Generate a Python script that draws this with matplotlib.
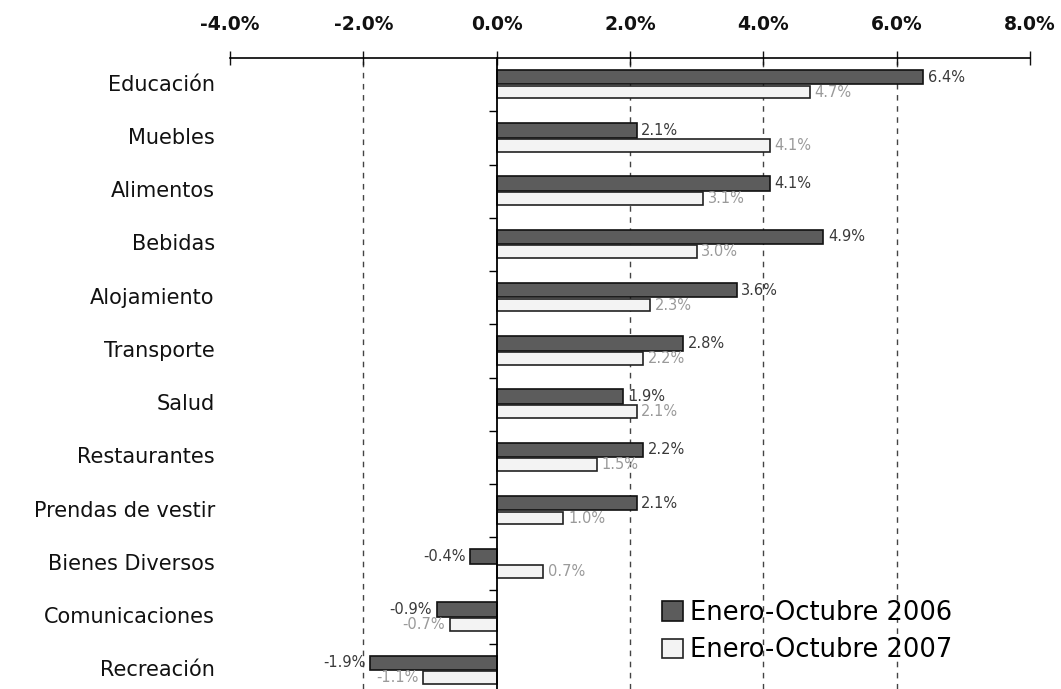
import numpy as np
import matplotlib.pyplot as plt

categorias = ['Educación', 'Muebles', 'Alimentos', 'Bebidas', 'Alojamiento',
              'Transporte', 'Salud', 'Restaurantes', 'Prendas de vestir',
              'Bienes Diversos', 'Comunicaciones', 'Recreación']
var_2006 = [6.4, 2.1, 4.1, 4.9, 3.6, 2.8, 1.9, 2.2, 2.1, -0.4, -0.9, -1.9]
var_2007 = [4.7, 4.1, 3.1, 3.0, 2.3, 2.2, 2.1, 1.5, 1.0, 0.7, -0.7, -1.1]
ticks_x = [-4, -2, 0, 2, 4, 6, 8]
rejilla = [-2, 2, 4, 6]

plt.rcParams['font.family'] = ['DejaVu Sans']

fig = plt.figure(figsize=(10.61, 6.89), dpi=100)
ax = fig.add_axes([0.2168, 0.0, 0.754, 0.9158])

y = np.arange(len(categorias))
off = 0.14

b1 = ax.barh(y - off, var_2006, height=0.27, color='#5c5c5c', edgecolor='#111111',
             linewidth=1.2, label='Enero-Octubre 2006', zorder=3)
b2 = ax.barh(y + off, var_2007, height=0.24, color='#f3f3f3', edgecolor='#222222',
             linewidth=1.2, label='Enero-Octubre 2007', zorder=3)

# etiquetas de valor junto al extremo de cada barra
for yi, v in zip(y - off, var_2006):
    ha = 'left' if v >= 0 else 'right'
    dx = 0.07 if v >= 0 else -0.07
    ax.text(v + dx, yi, f'{v:.1f}%', ha=ha, va='center', fontsize=10.5, color='#3a3a3a', zorder=4)
for yi, v in zip(y + off, var_2007):
    ha = 'left' if v >= 0 else 'right'
    dx = 0.07 if v >= 0 else -0.07
    ax.text(v + dx, yi, f'{v:.1f}%', ha=ha, va='center', fontsize=10.5, color='#9a9a9a', zorder=4)

# nombres de categoria a la izquierda
for yi, nombre in zip(y, categorias):
    ax.text(-0.019, yi, nombre, transform=ax.get_yaxis_transform(),
            ha='right', va='center', fontsize=15, color='#111111')

# lineas verticales discontinuas
for gx in rejilla:
    ax.axvline(gx, color='#444444', linewidth=1.0, linestyle=(0, (4, 4)), zorder=1)

ax.set_xlim(-4, 8)
ax.set_ylim(len(categorias) - 0.65, -0.5)

# eje x arriba
ax.xaxis.tick_top()
ax.set_xticks(ticks_x)
ax.set_xticklabels([f'{t:.1f}%' for t in ticks_x], fontweight='bold')
ax.tick_params(axis='x', direction='inout', length=10, width=1, pad=12,
               labelsize=13.5, colors='#111111')

# eje y sobre el cero, con marcas entre categorias
ax.spines['left'].set_position(('data', 0))
ax.spines['left'].set_linewidth(1.3)
ax.spines['left'].set_zorder(5)
ax.set_yticks(y[:-1] + 0.5)
ax.set_yticklabels([])
ax.tick_params(axis='y', direction='out', length=6, width=1)
ax.spines['right'].set_visible(False)
ax.spines['bottom'].set_visible(False)
ax.spines['top'].set_linewidth(1.2)

ax.legend(handles=[b1, b2], loc='upper left', bbox_to_anchor=(0.612, 0.148),
          bbox_transform=fig.transFigure, frameon=False, fontsize=18.5,
          handlelength=0.8, handleheight=0.8, handletextpad=0.3, labelspacing=0.45,
          borderpad=0.0)

fig.savefig('out.png', dpi=100)
